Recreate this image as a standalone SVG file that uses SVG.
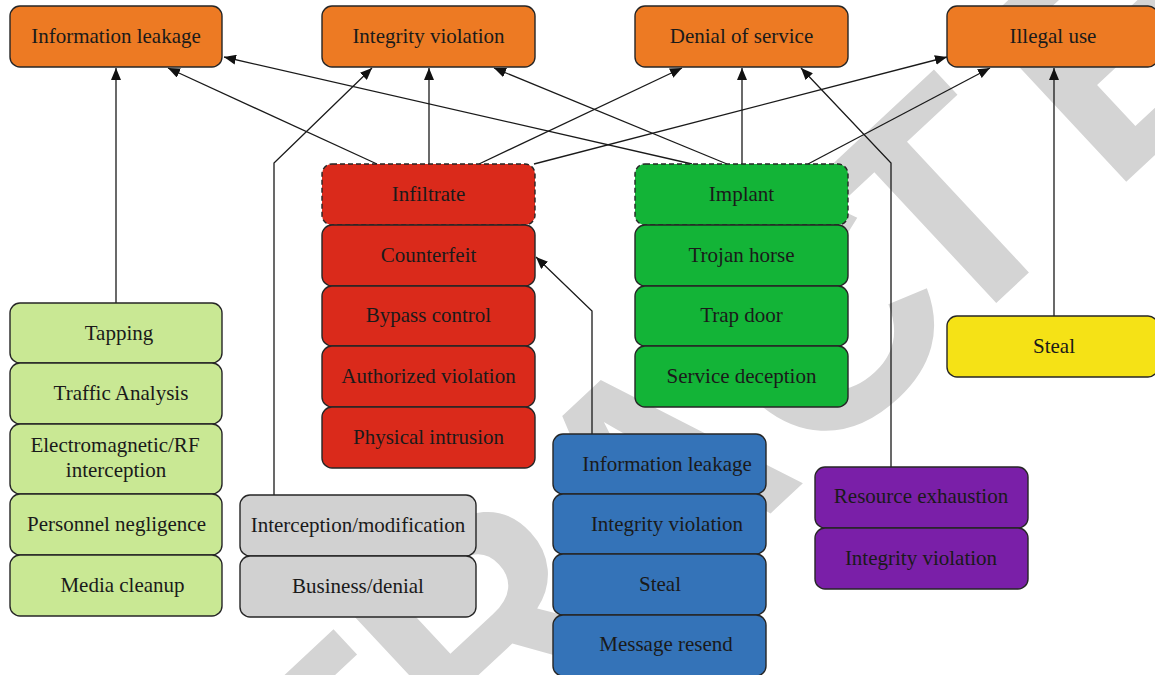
<svg xmlns="http://www.w3.org/2000/svg" width="1155" height="675" viewBox="0 0 1155 675">
  <defs>
    <marker id="arr" viewBox="0 0 12 10" refX="12" refY="5" markerWidth="12" markerHeight="10" markerUnits="userSpaceOnUse" orient="auto">
      <path d="M0,0 L12,5 L0,10 z" fill="#111"/>
    </marker>
    <style>
      .box { stroke: #262626; stroke-width: 1.4; }
      .dash { stroke-dasharray: 5 3; }
      .orange { fill: #ED7A23; }
      .red { fill: #DA2A1B; }
      .green { fill: #13B437; }
      .lime { fill: #C9E894; }
      .grey { fill: #D1D1D1; }
      .blue { fill: #3473B8; }
      .purple { fill: #7A1FA8; }
      .yellow { fill: #F5E216; }
      .lbl { font-family: "Liberation Serif", "Times New Roman", serif; font-size: 21px; fill: #1a1a1a; text-anchor: middle; }
      .edge { fill: none; stroke: #1a1a1a; stroke-width: 1.3; marker-end: url(#arr); }
      .mark { font-family: "Liberation Sans", Arial, sans-serif; font-weight: bold; font-size: 310px; fill: #D4D4D4; text-anchor: middle; }
    </style>
  </defs>

  <rect width="1155" height="675" fill="#ffffff"/>

  <!-- background stamp, kerned around the second T -->
  <text class="mark" transform="translate(727,554) rotate(-43)" dx="0 0 0 0 0 0 -40 40 0">RETRACTED</text>

  <!-- connectors -->
  <g id="connectors">
    <path class="edge" d="M116,303 V68"/>
    <path class="edge" d="M377,164 L168,68"/>
    <path class="edge" d="M429,164 V68"/>
    <path class="edge" d="M479,164 L682,68"/>
    <path class="edge" d="M534,164 L947,57"/>
    <path class="edge" d="M692,164 L224,57"/>
    <path class="edge" d="M727,164 L494,68"/>
    <path class="edge" d="M742,164 V68"/>
    <path class="edge" d="M808,164 L990,68"/>
    <path class="edge" d="M891,467 V163 L801,68"/>
    <path class="edge" d="M274,495 V163 L372,68"/>
    <path class="edge" d="M592,434 V311 L536,257"/>
    <path class="edge" d="M1054,316 V68"/>
  </g>

  <!-- threat categories -->
  <g id="info-leakage">
    <rect class="box orange" x="10" y="6" width="212" height="61" rx="10"/>
    <text class="lbl" x="116" y="43">Information leakage</text>
  </g>
  <g id="integrity-violation">
    <rect class="box orange" x="322" y="6" width="213" height="61" rx="10"/>
    <text class="lbl" x="428.5" y="43">Integrity violation</text>
  </g>
  <g id="denial-of-service">
    <rect class="box orange" x="635" y="6" width="213" height="61" rx="10"/>
    <text class="lbl" x="741.5" y="43">Denial of service</text>
  </g>
  <g id="illegal-use">
    <rect class="box orange" x="947" y="6" width="211" height="61" rx="10"/>
    <text class="lbl" x="1053" y="43">Illegal use</text>
  </g>

  <!-- infiltrate stack -->
  <g id="infiltrate">
    <rect class="box red dash" x="322" y="164" width="213" height="61" rx="10"/>
    <text class="lbl" x="428.5" y="201">Infiltrate</text>
  </g>
  <g id="counterfeit">
    <rect class="box red" x="322" y="225" width="213" height="61" rx="10"/>
    <text class="lbl" x="428.5" y="262">Counterfeit</text>
  </g>
  <g id="bypass-control">
    <rect class="box red" x="322" y="286" width="213" height="60" rx="10"/>
    <text class="lbl" x="428.5" y="322">Bypass control</text>
  </g>
  <g id="authorized-violation">
    <rect class="box red" x="322" y="346" width="213" height="61" rx="10"/>
    <text class="lbl" x="428.5" y="383">Authorized violation</text>
  </g>
  <g id="physical-intrusion">
    <rect class="box red" x="322" y="407" width="213" height="61" rx="10"/>
    <text class="lbl" x="428.5" y="444">Physical intrusion</text>
  </g>

  <!-- implant stack -->
  <g id="implant">
    <rect class="box green dash" x="635" y="164" width="213" height="61" rx="10"/>
    <text class="lbl" x="741.5" y="201">Implant</text>
  </g>
  <g id="trojan-horse">
    <rect class="box green" x="635" y="225" width="213" height="61" rx="10"/>
    <text class="lbl" x="741.5" y="262">Trojan horse</text>
  </g>
  <g id="trap-door">
    <rect class="box green" x="635" y="286" width="213" height="60" rx="10"/>
    <text class="lbl" x="741.5" y="322">Trap door</text>
  </g>
  <g id="service-deception">
    <rect class="box green" x="635" y="346" width="213" height="61" rx="10"/>
    <text class="lbl" x="741.5" y="383">Service deception</text>
  </g>

  <!-- eavesdropping stack -->
  <g id="tapping">
    <rect class="box lime" x="10" y="303" width="212" height="60" rx="10"/>
    <text class="lbl" x="119" y="340">Tapping</text>
  </g>
  <g id="traffic-analysis">
    <rect class="box lime" x="10" y="363" width="212" height="61" rx="10"/>
    <text class="lbl" x="121" y="400">Traffic Analysis</text>
  </g>
  <g id="em-interception">
    <rect class="box lime" x="10" y="424" width="212" height="70" rx="10"/>
    <text class="lbl" x="115" y="452">Electromagnetic/RF</text>
    <text class="lbl" x="116" y="477">interception</text>
  </g>
  <g id="personnel-negligence">
    <rect class="box lime" x="10" y="494" width="212" height="61" rx="10"/>
    <text class="lbl" x="116.5" y="531">Personnel negligence</text>
  </g>
  <g id="media-cleanup">
    <rect class="box lime" x="10" y="555" width="212" height="61" rx="10"/>
    <text class="lbl" x="122.5" y="592">Media cleanup</text>
  </g>

  <!-- interception stack -->
  <g id="interception-modification">
    <rect class="box grey" x="240" y="495" width="236" height="61" rx="10"/>
    <text class="lbl" x="358" y="532">Interception/modification</text>
  </g>
  <g id="business-denial">
    <rect class="box grey" x="240" y="556" width="236" height="61" rx="10"/>
    <text class="lbl" x="358" y="593">Business/denial</text>
  </g>

  <!-- replay stack -->
  <g id="blue-info-leakage">
    <rect class="box blue" x="553" y="434" width="213" height="60" rx="10"/>
    <text class="lbl" x="667" y="471">Information leakage</text>
  </g>
  <g id="blue-integrity-violation">
    <rect class="box blue" x="553" y="494" width="213" height="60" rx="10"/>
    <text class="lbl" x="667" y="531">Integrity violation</text>
  </g>
  <g id="blue-steal">
    <rect class="box blue" x="553" y="554" width="213" height="61" rx="10"/>
    <text class="lbl" x="660" y="591">Steal</text>
  </g>
  <g id="message-resend">
    <rect class="box blue" x="553" y="615" width="213" height="61" rx="10"/>
    <text class="lbl" x="666" y="651">Message resend</text>
  </g>

  <!-- resource stack -->
  <g id="resource-exhaustion">
    <rect class="box purple" x="815" y="467" width="213" height="61" rx="10"/>
    <text class="lbl" x="921" y="503">Resource exhaustion</text>
  </g>
  <g id="purple-integrity-violation">
    <rect class="box purple" x="815" y="528" width="213" height="61" rx="10"/>
    <text class="lbl" x="921" y="565">Integrity violation</text>
  </g>

  <!-- theft -->
  <g id="steal">
    <rect class="box yellow" x="947" y="316" width="211" height="61" rx="10"/>
    <text class="lbl" x="1054" y="353">Steal</text>
  </g>
</svg>
